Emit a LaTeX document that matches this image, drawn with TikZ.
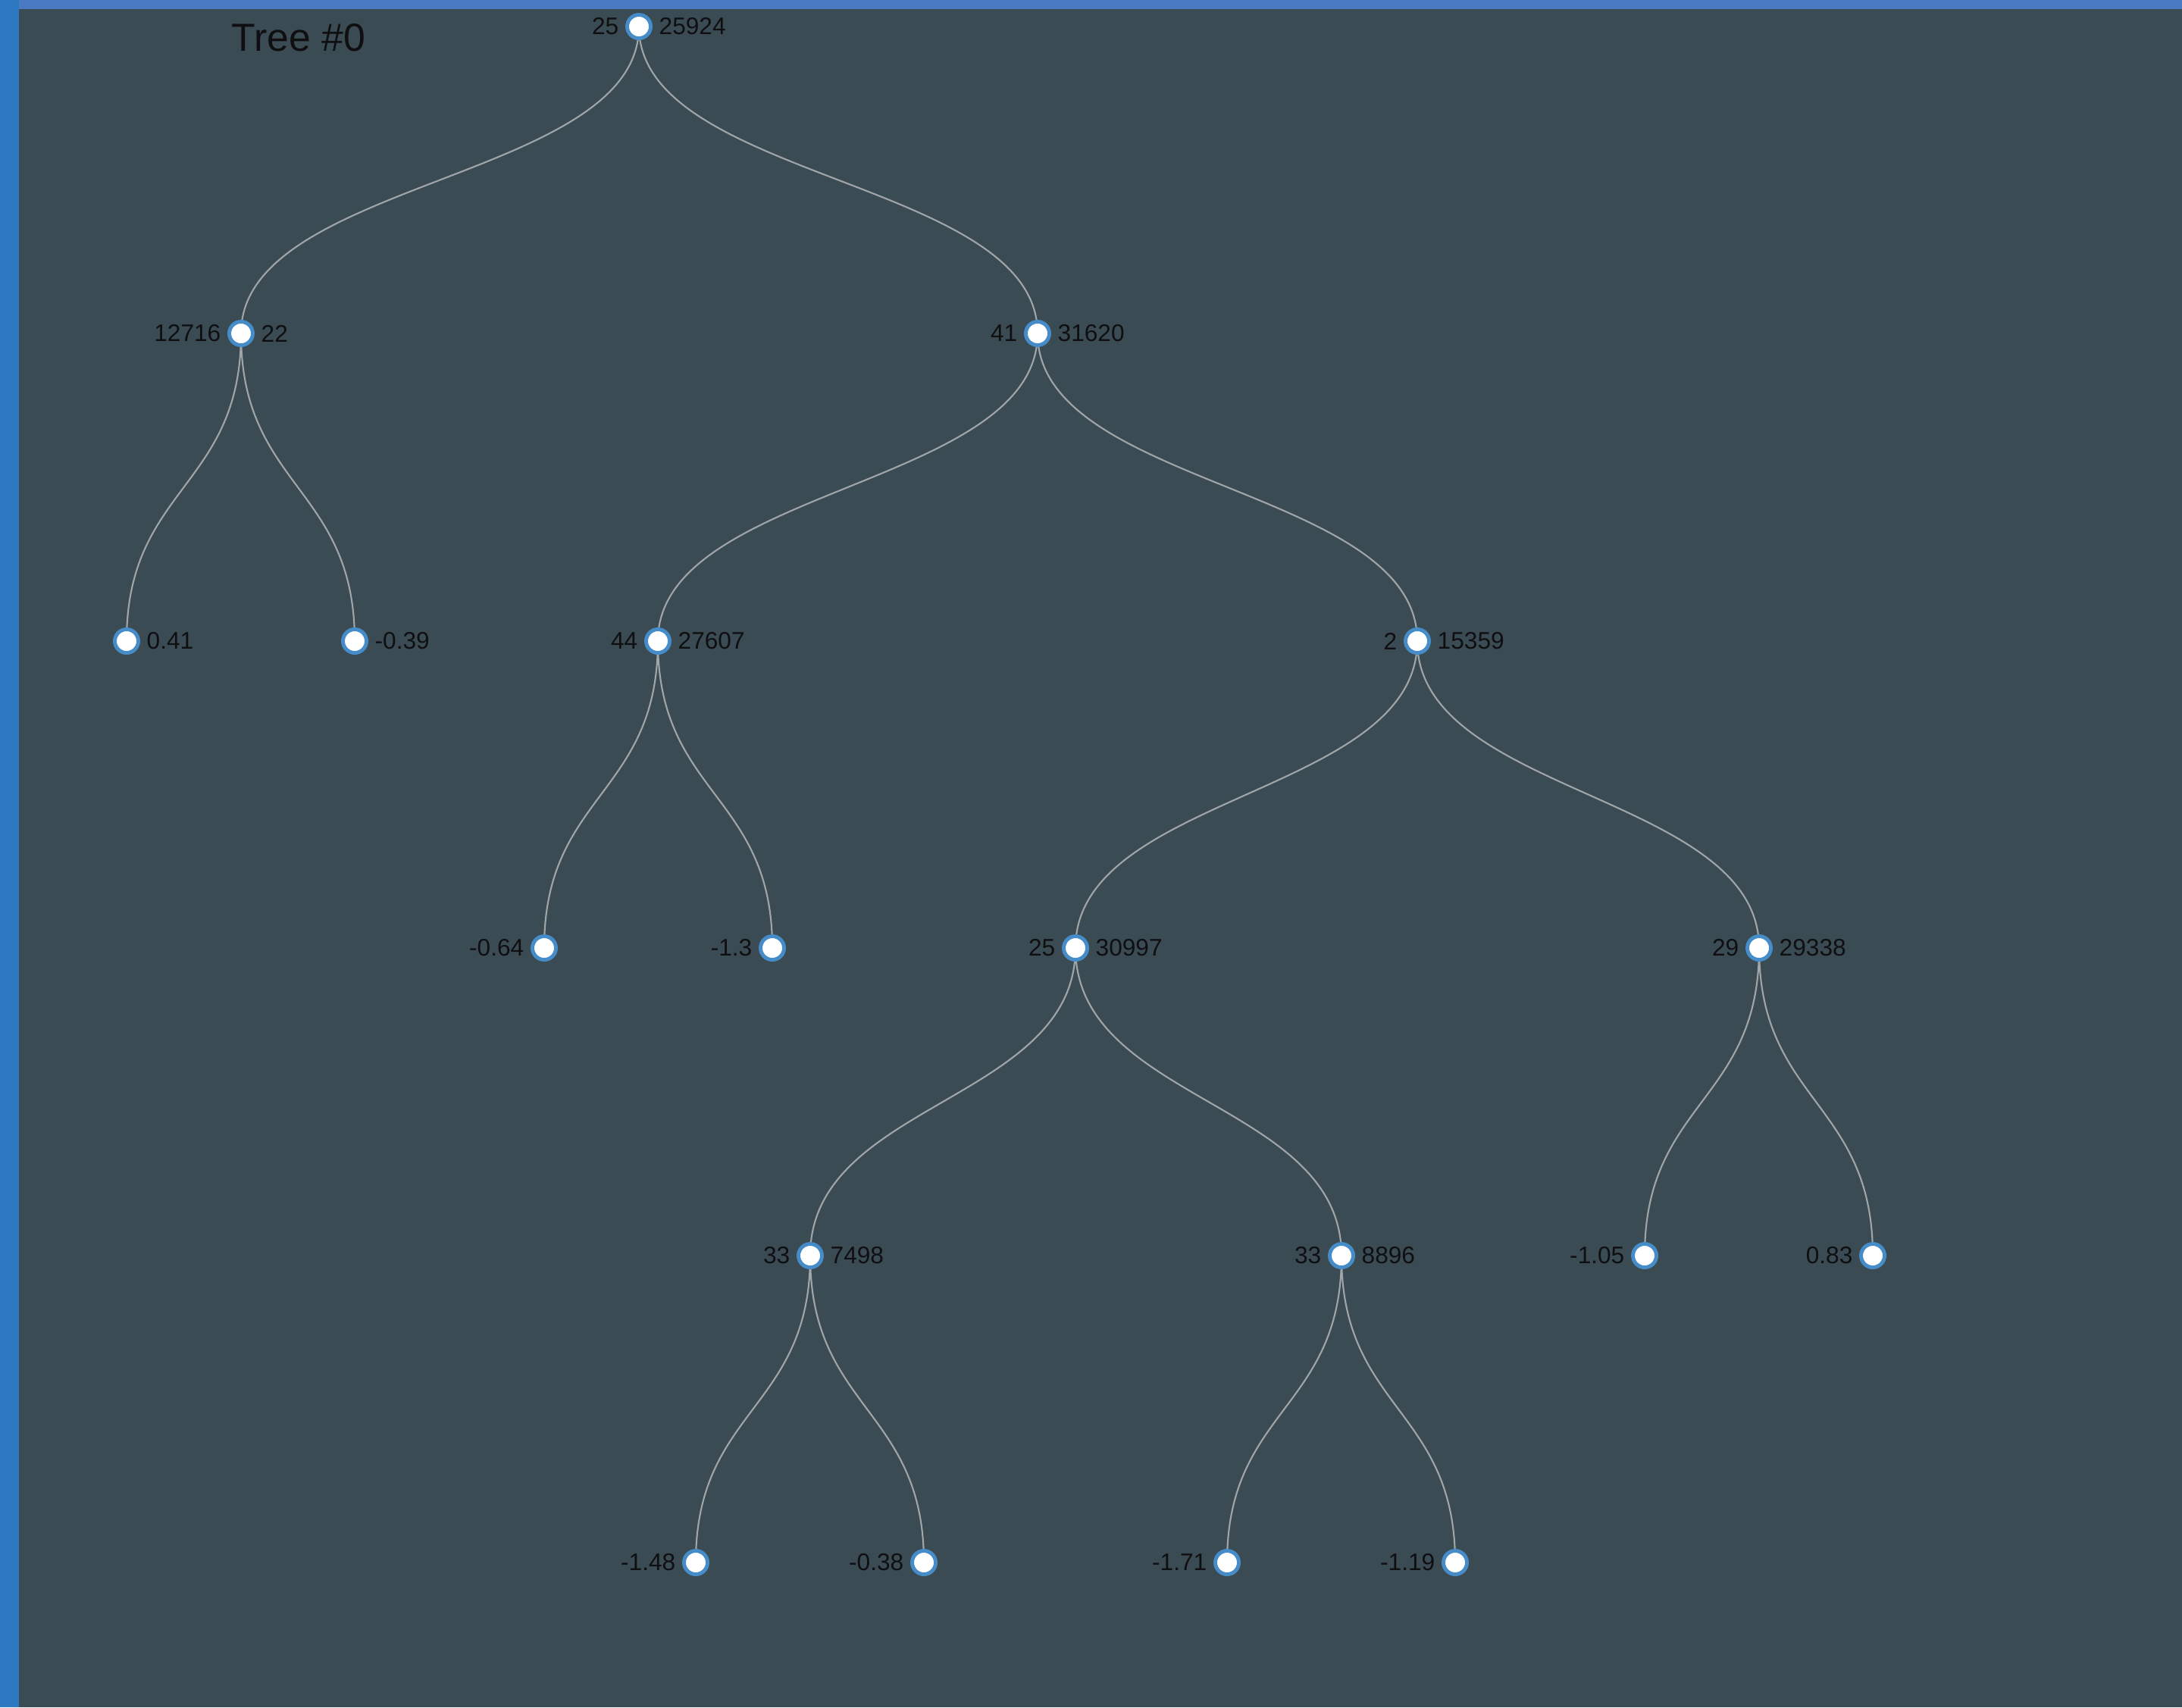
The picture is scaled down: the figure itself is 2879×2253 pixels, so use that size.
\documentclass[tikz,border=0pt]{standalone}
\usepackage{fontspec}
\setmainfont{Liberation Sans}
\usetikzlibrary{backgrounds}
\definecolor{slate}{RGB}{58,75,83}
\definecolor{sideblue}{RGB}{46,120,194}
\definecolor{topblue}{RGB}{74,121,196}
\definecolor{nodeblue}{RGB}{70,140,200}
\definecolor{linkgray}{RGB}{160,165,168}
\definecolor{labelink}{RGB}{15,15,18}

\begin{document}
\begin{tikzpicture}[x=0.01cm, y=-0.01cm,
  tnode/.style={circle, draw=nodeblue, fill=white, line width=1.4pt,
    minimum size=0.31cm, inner sep=0pt},
  every label/.style={font=\fontsize{9}{11}\selectfont, text=labelink, inner sep=0pt},
  label distance=0.08cm,
  link/.style={draw=linkgray, line width=0.6pt}]
\useasboundingbox (0,0) rectangle (2879,2253);

% Backdrop: blue window edge, slate panel
\begin{scope}[on background layer]
\fill[sideblue] (0,0) rectangle (2879,2253);
\fill[topblue] (25,0) rectangle (2879,12);
\fill[slate] (25,12) rectangle (2879,2253);
\end{scope}

\node[font=\fontsize{14.7}{17}\selectfont, text=labelink] (title) at (394,50) {Tree \#0};

% Split nodes (feature, threshold)
\node[tnode, label=left:25, label=right:25924] (root) at (843,35) {};
\node[tnode, label=left:12716, label=right:22] (s1) at (318,440) {};
\node[tnode, label=left:41, label=right:31620] (s2) at (1369,440) {};
\node[tnode, label=left:44, label=right:27607] (s3) at (868,846) {};
\node[tnode, label=left:2, label=right:15359] (s4) at (1870,846) {};
\node[tnode, label=left:25, label=right:30997] (s5) at (1419,1251) {};
\node[tnode, label=left:29, label=right:29338] (s6) at (2321,1251) {};
\node[tnode, label=left:33, label=right:7498] (s7) at (1069,1657) {};
\node[tnode, label=left:33, label=right:8896] (s8) at (1770,1657) {};

% Leaves (values)
\node[tnode, label=right:0.41] (l1) at (167,846) {};
\node[tnode, label=right:-0.39] (l2) at (468,846) {};
\node[tnode, label=left:-0.64] (l3) at (718,1251) {};
\node[tnode, label=left:-1.3] (l4) at (1019,1251) {};
\node[tnode, label=left:-1.05] (l5) at (2170,1657) {};
\node[tnode, label=left:0.83] (l6) at (2471,1657) {};
\node[tnode, label=left:-1.48] (l7) at (918,2062) {};
\node[tnode, label=left:-0.38] (l8) at (1219,2062) {};
\node[tnode, label=left:-1.71] (l9) at (1619,2062) {};
\node[tnode, label=left:-1.19] (l10) at (1920,2062) {};

% Links
\begin{scope}[on background layer]
\foreach \p/\c in {root/s1, root/s2, s1/l1, s1/l2, s2/s3, s2/s4,
    s3/l3, s3/l4, s4/s5, s4/s6, s5/s7, s5/s8, s6/l5, s6/l6,
    s7/l7, s7/l8, s8/l9, s8/l10}
  \draw[link] (\p.center) .. controls +(0,203) and +(0,-203) .. (\c.center);
\end{scope}
\end{tikzpicture}
\end{document}
